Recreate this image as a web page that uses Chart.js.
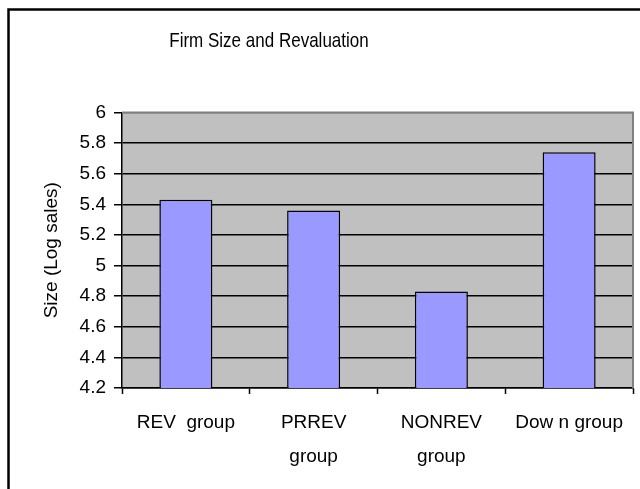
<!DOCTYPE html>
<html>
<head>
<meta charset="utf-8">
<script src="https://cdn.jsdelivr.net/npm/chart.js@4/dist/chart.umd.min.js"></script>
<style>
  html, body { margin: 0; padding: 0; background: #fff; }
  #wrap { width: 640px; height: 489px; }
</style>
</head>
<body>
<div id="wrap"><canvas id="c" width="640" height="489"></canvas></div>
<script>
// Firm size (log sales) by revaluation group
const chartTitle = 'Firm Size and Revaluation';
const yAxisTitle = 'Size (Log sales)';
const categories = ['REV  group', ['PRREV', 'group'], ['NONREV', 'group'], 'Dow n group'];
const sizes = [5.43, 5.36, 4.83, 5.74];
const yMin = 4.2;
const yMax = 6;
const yStep = 0.2;

const FONT = '"Liberation Sans", Arial, sans-serif';

// Frame, plot background, plot border and the title text
const frame = {
  id: 'frame',
  beforeDraw(chart) {
    const { ctx, chartArea: a } = chart;
    ctx.save();
    ctx.fillStyle = '#ffffff';
    ctx.fillRect(0, 0, chart.width, chart.height);
    ctx.fillStyle = '#c0c0c0';
    ctx.fillRect(a.left, a.top, a.right - a.left, a.bottom - a.top);
    ctx.restore();
  },
  afterDatasetsDraw(chart) {
    const { ctx, chartArea: a } = chart;
    ctx.save();
    ctx.strokeStyle = '#808080';
    ctx.lineWidth = 2;
    ctx.beginPath();
    ctx.moveTo(a.left, a.top);
    ctx.lineTo(a.right, a.top);
    ctx.lineTo(a.right, a.bottom);
    ctx.stroke();
    ctx.restore();
  },
  afterDraw(chart) {
    const { ctx } = chart;
    ctx.save();
    ctx.strokeStyle = '#000';
    ctx.lineWidth = 2.5;
    ctx.strokeRect(8.5, 9.5, 800, 800);
    // condensed title lettering
    ctx.translate(269, 46.5);
    ctx.scale(0.81, 1);
    ctx.fillStyle = '#000';
    ctx.font = '21px ' + FONT;
    ctx.textAlign = 'center';
    ctx.textBaseline = 'alphabetic';
    ctx.fillText(chartTitle, 0, 0);
    ctx.restore();
  }
};

new Chart(document.getElementById('c'), {
  type: 'bar',
  data: {
    labels: categories,
    datasets: [{
      data: sizes,
      backgroundColor: '#9999ff',
      borderColor: '#000',
      borderWidth: 1.5,
      borderSkipped: false,
      barPercentage: 0.415,
      categoryPercentage: 1
    }]
  },
  options: {
    responsive: false,
    animation: false,
    events: [],
    layout: { padding: { top: 112.5, left: 0, right: 7, bottom: 0 } },
    plugins: {
      legend: { display: false },
      title: { display: false },
      tooltip: { enabled: false }
    },
    scales: {
      x: {
        offset: true,
        afterFit(s) { s.height = 101; },
        border: { display: true, color: '#000', width: 1.5 },
        grid: {
          offset: true,
          drawOnChartArea: false,
          drawTicks: true,
          tickLength: 6,
          tickColor: '#000',
          tickWidth: 1.5
        },
        ticks: {
          color: '#000',
          padding: 11,
          maxRotation: 0,
          autoSkip: false,
          font: { family: FONT, size: 19, lineHeight: 1.82 }
        }
      },
      y: {
        min: yMin,
        max: yMax,
        afterFit(s) { s.width = 122; },
        border: { display: true, color: '#000', width: 1.5 },
        grid: {
          color: (c) => (c.tick && Math.abs(c.tick.value - yMax) < 1e-9) ? '#808080' : '#000',
          lineWidth: 1.5,
          drawTicks: true,
          tickLength: 8,
          tickColor: '#000',
          tickWidth: 1.5
        },
        ticks: {
          stepSize: yStep,
          color: '#000',
          padding: 8,
          font: { family: FONT, size: 19 },
          callback: (v) => String(+Number(v).toFixed(1))
        },
        title: {
          display: true,
          text: yAxisTitle,
          color: '#000',
          padding: { top: 40, bottom: 0 },
          font: { family: FONT, size: 19 }
        }
      }
    }
  },
  plugins: [frame]
});
</script>
</body>
</html>
